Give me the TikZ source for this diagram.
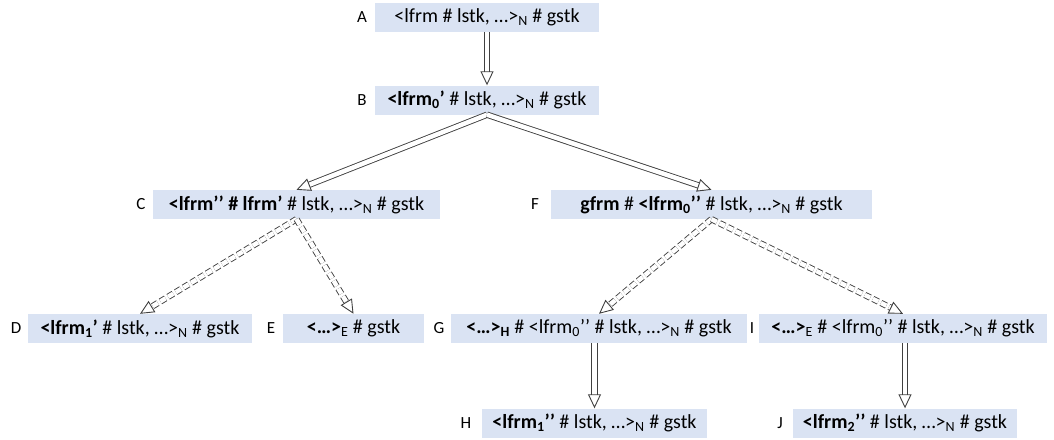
\documentclass[tikz,border=0pt]{standalone}
\usepackage{fontspec}
\setmainfont{Carlito}
\usetikzlibrary{arrows.meta}
\definecolor{boxblue}{RGB}{218,227,243}

\begin{document}
\begin{tikzpicture}
  [
    x=1pt,
    y=-1pt,
    state/.style={
      fill=boxblue,
      minimum height=29pt,
      inner sep=0pt,
      font=\fontsize{20}{23}\selectfont
    },
    tag/.style={
      font=\fontsize{17}{20}\selectfont
    },
    hollow/.style={
      draw=black!75,
      line width=0.9pt,
      double=white,
      double distance=4.5pt,
      -{Triangle[open,length=14pt,width=13pt]}
    },
    branch/.style={
      hollow,
      dash pattern=on 6pt off 3pt
    }
  ]
    \useasboundingbox (0,0) rectangle (1054,439);
    % states
    \node [state,minimum width=224pt] (A) at (487,17.5) {<lfrm \# lstk, …>\textsubscript{N} \# gstk};
    \node [state,minimum width=224pt] (B) at (487,100) {\textbf{<lfrm\textsubscript{0}’} \# lstk, …>\textsubscript{N} \# gstk};
    \node [state,minimum width=287pt] (C) at (296.5,204.5) {\textbf{<lfrm’’ \# lfrm’} \# lstk, …>\textsubscript{N} \# gstk};
    \node [state,minimum width=321pt] (F) at (711.5,204.5) {\textbf{gfrm} \# \textbf{<lfrm\textsubscript{0}’’} \# lstk, …>\textsubscript{N} \# gstk};
    \node [state,minimum width=224pt] (D) at (140,328.5) {\textbf{<lfrm\textsubscript{1}’} \# lstk, …>\textsubscript{N} \# gstk};
    \node [state,minimum width=141pt] (E) at (353.5,328.5) {\textbf{<…>}\textsubscript{E} \# gstk};
    \node [state,minimum width=296pt] (G) at (599,328.5) {\textbf{<…>\textsubscript{H}} \# <lfrm\textsubscript{0}’’ \# lstk, …>\textsubscript{N} \# gstk};
    \node [state,minimum width=288pt] (I) at (903,328.5) {\textbf{<…>}\textsubscript{E} \# <lfrm\textsubscript{0}’’ \# lstk, …>\textsubscript{N} \# gstk};
    \node [state,minimum width=225pt] (H) at (594.5,423) {\textbf{<lfrm\textsubscript{1}’’} \# lstk, …>\textsubscript{N} \# gstk};
    \node [state,minimum width=224pt] (J) at (905,423) {\textbf{<lfrm\textsubscript{2}’’} \# lstk, …>\textsubscript{N} \# gstk};
    % labels
    \node [tag] (lA) at (362,17.5) {A};
    \node [tag] (lB) at (362,100) {B};
    \node [tag] (lC) at (141,204.5) {C};
    \node [tag] (lF) at (535,204.5) {F};
    \node [tag] (lD) at (16,328.5) {D};
    \node [tag] (lE) at (271,328.5) {E};
    \node [tag] (lG) at (439,328.5) {G};
    \node [tag] (lI) at (752,328.5) {I};
    \node [tag] (lH) at (466,423) {H};
    \node [tag] (lJ) at (780,423) {J};
    % steps
    \draw [hollow] (A) -- (B);
    \draw [hollow] (B.south) -- (C.north);
    \draw [hollow] (B.south) -- (F.north);
    \draw [branch] (C.south) -- (D.north);
    \draw [branch] (C.south) -- (E.north);
    \draw [branch] (F.south) -- (G.north);
    \draw [branch] (F.south) -- (I.north);
    \draw [hollow] (H.north |- G.south) -- (H.north);
    \draw [hollow] (J.north |- I.south) -- (J.north);
  \end{tikzpicture}
\end{document}
